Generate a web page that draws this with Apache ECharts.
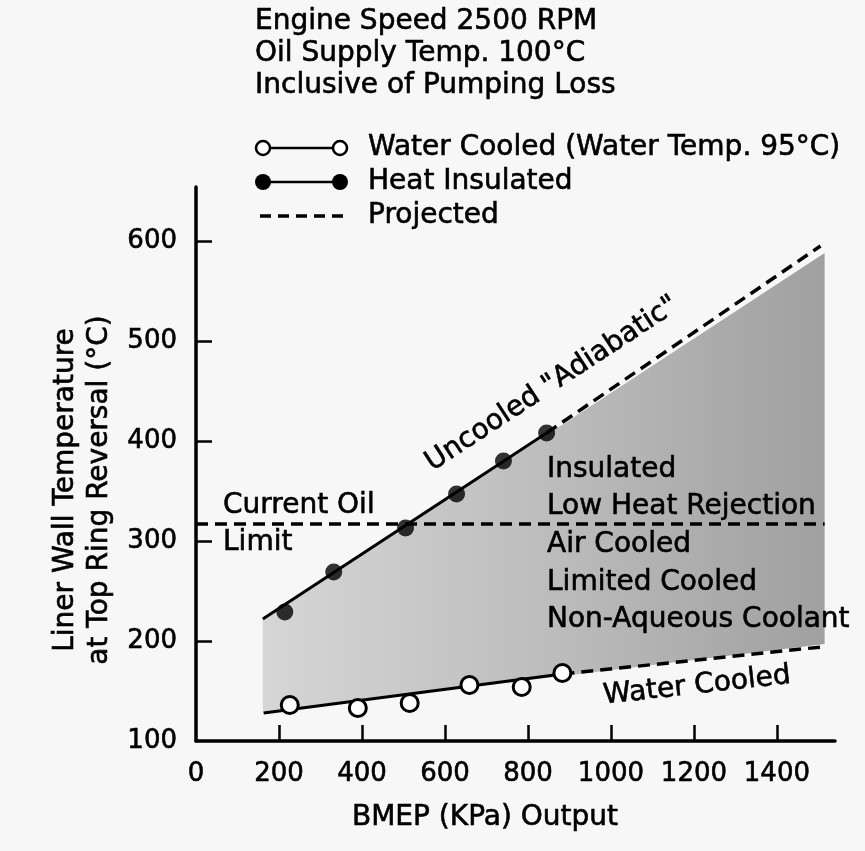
<!DOCTYPE html>
<html>
<head>
<meta charset="utf-8">
<script src="https://cdn.jsdelivr.net/npm/echarts@6/dist/echarts.min.js"></script>
<style>
  html, body { margin: 0; padding: 0; background: #f7f7f7; }
  #chart { width: 865px; height: 851px; }
</style>
</head>
<body>
<div id="chart"></div>
<script>
// BMEP (KPa) vs liner wall temperature at top ring reversal (°C)

const xLabels = [0, 200, 400, 600, 800, 1000, 1200, 1400]
const xTickValues = [200, 400, 600, 800, 1000, 1200, 1400]
const yLabels = [100, 200, 300, 400, 500, 600]
const yTickValues = [200, 300, 400, 500, 600]

// measured points
const insulatedPoints = [[214, 229], [332, 269], [505, 313], [628, 347], [741, 380], [845, 408]]
const waterPoints = [[226, 136], [390, 133], [515, 138], [659, 156], [785, 154], [883, 168]]

// fitted lines through the points, and their projections
const insulatedFit = [[161, 222], [845, 408]]
const insulatedProjected = [[845, 408], [1505, 595]]
const waterFit = [[163, 128], [883, 167]]
const waterProjected = [[883, 167], [1507, 194]]
const oilLimit = [[0, 317], [1515, 317]]

// shaded band between the two lines
const shadeBand = [[161, 222], [845, 406], [1515, 588], [1515, 197], [883, 165], [161, 129]]

const FONT = "'DejaVu Sans', sans-serif"
const TXT = 28

const chart = echarts.init(document.getElementById('chart'))

function text(x, y, str, opts) {
  opts = opts || {}
  return {
    type: 'text',
    x: x,
    y: y,
    z: 50,
    rotation: opts.rotation || 0,
    silent: true,
    style: {
      text: str,
      fill: '#000',
      stroke: '#000',
      lineWidth: 0.6,
      font: (opts.size || TXT) + 'px ' + FONT,
      textAlign: opts.align || 'left',
      textVerticalAlign: 'middle'
    }
  }
}

const lineWidth = 3
const dashWidth = 3.5
const dash = [12, 7]

const legendY = [148, 182, 216]

const axisLabelStyle = {
  color: '#000', fontSize: 26, fontFamily: FONT,
  textBorderColor: '#000', textBorderWidth: 0.6,
  formatter: v => String(v)
}

const option = {
  backgroundColor: '#f7f7f7',
  animation: false,
  grid: { left: 196, right: 30, top: 187, bottom: 110 },
  xAxis: {
    type: 'value',
    min: 0,
    max: 1540,
    interval: 200,
    axisLine: { lineStyle: { color: '#000', width: 3.5 } },
    axisTick: { inside: true, length: 16, lineStyle: { color: '#000', width: 2.5 }, customValues: xTickValues },
    axisLabel: Object.assign({ customValues: xLabels, margin: 20 }, axisLabelStyle),
    splitLine: { show: false }
  },
  yAxis: {
    type: 'value',
    min: 100,
    max: 654,
    interval: 100,
    axisLine: { lineStyle: { color: '#000', width: 3.5 } },
    axisTick: { inside: true, length: 16, lineStyle: { color: '#000', width: 2.5 }, customValues: yTickValues },
    axisLabel: Object.assign({ customValues: yLabels, margin: 19 }, axisLabelStyle),
    splitLine: { show: false }
  },
  series: [
    {
      type: 'custom',
      silent: true,
      data: shadeBand,
      renderItem: function(params, api) {
        if (params.dataIndex !== 0) {
          return
        }
        let pts = shadeBand.map(p => api.coord(p))
        return {
          type: 'polygon',
          shape: { points: pts },
          style: {
            fill: new echarts.graphic.LinearGradient(0, 0, 1, 0, [
              { offset: 0, color: '#d6d6d6' },
              { offset: 0.5, color: '#bdbdbd' },
              { offset: 1, color: '#a0a0a0' }
            ])
          }
        }
      },
      z: 1
    },
    {
      type: 'line', data: oilLimit, symbol: 'none',
      lineStyle: { color: '#000', width: dashWidth, type: dash }, z: 3
    },
    {
      type: 'line', data: insulatedFit, symbol: 'none',
      lineStyle: { color: '#000', width: lineWidth }, z: 3
    },
    {
      type: 'line', data: insulatedProjected, symbol: 'none',
      lineStyle: { color: '#000', width: dashWidth, type: dash }, z: 3
    },
    {
      type: 'line', data: waterFit, symbol: 'none',
      lineStyle: { color: '#000', width: lineWidth }, z: 3
    },
    {
      type: 'line', data: waterProjected, symbol: 'none',
      lineStyle: { color: '#000', width: dashWidth, type: dash }, z: 3
    },
    {
      name: 'Heat Insulated',
      type: 'scatter', data: insulatedPoints, symbol: 'circle', symbolSize: 17,
      itemStyle: { color: '#000' }, z: 5
    },
    {
      name: 'Water Cooled',
      type: 'scatter', data: waterPoints, symbol: 'circle', symbolSize: 17,
      itemStyle: { color: '#fff', borderColor: '#000', borderWidth: 3, opacity: 1 }, z: 5
    }
  ],
  graphic: [
    // header notes
    text(255, 22, 'Engine Speed 2500 RPM'),
    text(255, 54, 'Oil Supply Temp. 100°C'),
    text(255, 86, 'Inclusive of Pumping Loss'),

    // legend
    { type: 'line', z: 50, shape: { x1: 263, y1: legendY[0], x2: 340, y2: legendY[0] }, style: { stroke: '#000', lineWidth: 2.5 } },
    { type: 'circle', z: 51, shape: { cx: 263, cy: legendY[0], r: 7 }, style: { fill: '#fff', stroke: '#000', lineWidth: 2.5 } },
    { type: 'circle', z: 51, shape: { cx: 340, cy: legendY[0], r: 7 }, style: { fill: '#fff', stroke: '#000', lineWidth: 2.5 } },
    text(368, legendY[0], 'Water Cooled (Water Temp. 95°C)'),

    { type: 'line', z: 50, shape: { x1: 263, y1: legendY[1], x2: 340, y2: legendY[1] }, style: { stroke: '#000', lineWidth: 2.5 } },
    { type: 'circle', z: 51, shape: { cx: 263, cy: legendY[1], r: 8 }, style: { fill: '#000' } },
    { type: 'circle', z: 51, shape: { cx: 340, cy: legendY[1], r: 8 }, style: { fill: '#000' } },
    text(368, legendY[1], 'Heat Insulated'),

    { type: 'line', z: 50, shape: { x1: 260, y1: legendY[2], x2: 343, y2: legendY[2] }, style: { stroke: '#000', lineWidth: 3.5, lineDash: [11, 7] } },
    text(368, legendY[2], 'Projected'),

    // axis names
    text(66, 490, 'Liner Wall Temperature', { rotation: Math.PI / 2, align: 'center' }),
    text(100, 490, 'at Top Ring Reversal (°C)', { rotation: Math.PI / 2, align: 'center' }),
    text(485, 818, 'BMEP (KPa) Output', { align: 'center' }),

    // annotations
    text(223, 506, 'Current Oil'),
    text(223, 543, 'Limit'),
    text(552, 384, 'Uncooled "Adiabatic"', { rotation: 0.58, align: 'center' }),
    text(547, 470, 'Insulated'),
    text(547, 507, 'Low Heat Rejection'),
    text(547, 545, 'Air Cooled'),
    text(547, 583, 'Limited Cooled'),
    text(547, 620, 'Non-Aqueous Coolant'),
    text(697, 686, 'Water Cooled', { rotation: 0.11, align: 'center' })
  ]
}

chart.setOption(option)
</script>
</body>
</html>
